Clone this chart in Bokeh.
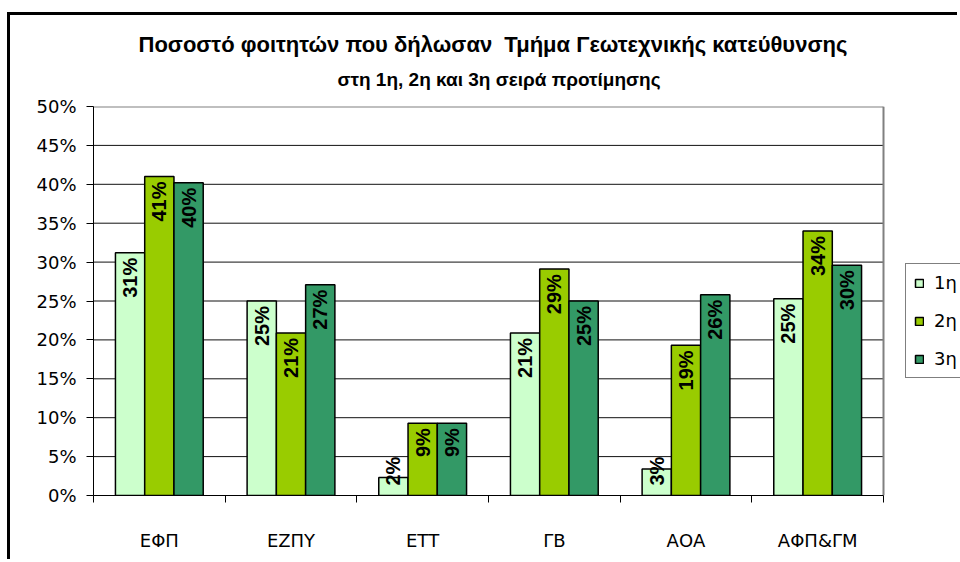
import math
from bokeh.plotting import figure
from bokeh.models import (Range1d, FixedTicker, NumeralTickFormatter,
                          ColumnDataSource, Legend, LegendItem, Title)
from bokeh.core.properties import value
from bokeh.embed import file_html
from bokeh.resources import INLINE

# ---- data (percent) ----
categories = ["ΕΦΠ", "ΕΖΠΥ", "ΕΤΤ", "ΓΒ", "ΑΟΑ", "ΑΦΠ&ΓΜ"]
series_names = ["1η", "2η", "3η"]
pref_1 = [31.2, 25.0, 2.3, 20.9, 3.4, 25.3]
pref_2 = [41.0, 20.9, 9.3, 29.1, 19.3, 34.0]
pref_3 = [40.2, 27.1, 9.3, 25.0, 25.8, 29.6]
y_tick_values = [0, 5, 10, 15, 20, 25, 30, 35, 40, 45, 50]

series = [pref_1, pref_2, pref_3]
colors = ["#CCFFCC", "#99CC00", "#339966"]
title_line_1 = "Ποσοστό φοιτητών που δήλωσαν \u00a0Τμήμα Γεωτεχνικής κατεύθυνσης"
title_line_2 = "στη 1η, 2η και 3η σειρά προτίμησης"

n = len(categories)
bw = 1 / 4.5
ymax = y_tick_values[-1] / 100

# plot area: 790 px for the categories; the frame continues to the page edge
# so that the legend (which sits right of the plot area) is drawn
cat_px = 790
frame_px = 867
p = figure(width=950, height=547, output_backend="svg", toolbar_location=None,
           x_range=Range1d(0, n * frame_px / cat_px), y_range=Range1d(0, ymax),
           min_border_left=83, min_border_right=0, min_border_top=91,
           min_border_bottom=67, background_fill_color="white",
           border_fill_color="white")
p.styles = {"border-top": "3px solid black", "border-left": "3px solid black",
            "margin-top": "12px", "margin-left": "7px"}

p.title.text = title_line_1
p.title.align = "left"
p.title.offset = 45
p.title.text_font = "Liberation Sans"
p.title.text_font_size = "22px"
p.title.text_font_style = "bold"
p.title.text_color = "black"
p.title.standoff = -15

sub = Title(text=title_line_2, align="left", offset=244,
            text_font="Liberation Sans",
            text_font_size="19px", text_font_style="bold", text_color="black",
            standoff=34)
p.add_layout(sub, "above")

p.outline_line_color = None

# y axis
p.yaxis.ticker = FixedTicker(ticks=[t / 100 for t in y_tick_values])
p.yaxis.formatter = NumeralTickFormatter(format="0%")
p.yaxis.major_label_text_font = "DejaVu Sans"
p.yaxis.major_label_text_font_size = "18px"
p.yaxis.major_label_text_color = "black"
p.yaxis.major_tick_out = 7
p.yaxis.major_tick_in = 0
p.yaxis.minor_tick_line_color = None
p.yaxis.axis_line_color = "black"
p.yaxis.major_tick_line_color = "black"
p.yaxis.major_label_standoff = 10

# x axis: labels at centres, ticks at boundaries
centres = [i + 0.5 for i in range(n)]
p.xaxis.ticker = FixedTicker(ticks=centres, minor_ticks=list(range(n + 1)))
p.xaxis.bounds = (0, n)
p.xaxis.major_label_overrides = {c: name for c, name in zip(centres, categories)}
p.xaxis.major_tick_line_color = None
p.xaxis.minor_tick_out = 7
p.xaxis.minor_tick_in = 0
p.xaxis.minor_tick_line_color = "black"
p.xaxis.axis_line_color = "black"
p.xaxis.major_label_text_font = "DejaVu Sans"
p.xaxis.major_label_text_font_size = "18px"
p.xaxis.major_label_text_color = "black"
p.xaxis.major_label_standoff = 27

p.xgrid.grid_line_color = None
p.ygrid.grid_line_color = None

# horizontal gridlines limited to the plot area
grid_y = [t / 100 for t in y_tick_values[1:-1]]
p.segment(x0=[0] * len(grid_y), x1=[n] * len(grid_y), y0=grid_y, y1=grid_y,
          line_color="#111111", line_width=1)
# grey plot-area border (top and right)
p.segment(x0=[0, n], x1=[n, n], y0=[ymax, 0], y1=[ymax, ymax],
          line_color="#808080", line_width=2)

renderers = []
for k, vals in enumerate(series):
    xs = [i + 0.5 + (k - 1) * bw for i in range(n)]
    tops = [v / 100 for v in vals]
    labels = [f"{round(v)}%" for v in vals]
    src = ColumnDataSource(dict(x=xs, top=tops, lab=labels))
    r = p.vbar(x="x", top="top", width=bw, source=src, fill_color=colors[k],
               line_color="black", line_width=1.5)
    renderers.append(r)

    big = [j for j, v in enumerate(vals) if v >= 5]
    small = [j for j, v in enumerate(vals) if v < 5]
    sb = ColumnDataSource(dict(x=[xs[j] for j in big], y=[tops[j] for j in big],
                               lab=[labels[j] for j in big]))
    p.text(x="x", y="y", text="lab", source=sb, angle=math.pi / 2,
           text_align="right", text_baseline="middle", y_offset=5,
           text_font=value("Liberation Sans"), text_font_style="bold",
           text_font_size="20px", text_color="black")
    ss = ColumnDataSource(dict(x=[xs[j] for j in small], y=[0 for j in small],
                               lab=[labels[j] for j in small]))
    p.text(x="x", y="y", text="lab", source=ss, angle=math.pi / 2,
           text_align="left", text_baseline="middle", y_offset=-10,
           text_font=value("Liberation Sans"), text_font_style="bold",
           text_font_size="20px", text_color="black")

legend = Legend(items=[LegendItem(label=nm, renderers=[r])
                       for nm, r in zip(series_names, renderers)],
                location=(812, 117), orientation="vertical",
                glyph_width=10, glyph_height=10, label_height=20,
                spacing=17, padding=8, margin=0, label_standoff=10,
                label_text_font="DejaVu Sans", label_text_font_size="18px",
                label_text_color="black",
                border_line_color="black", border_line_width=1,
                background_fill_color="white", background_fill_alpha=1)
p.add_layout(legend, "center")

open("out.html", "w").write(file_html(p, INLINE))
